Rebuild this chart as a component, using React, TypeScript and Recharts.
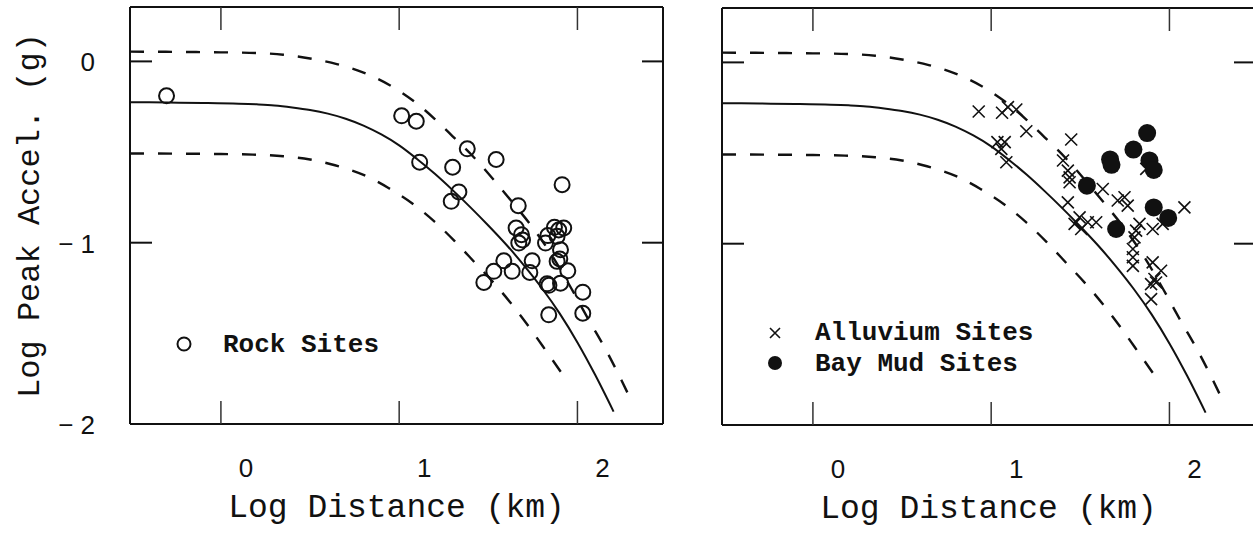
import React from 'react';
import { ScatterChart, Scatter, XAxis, YAxis, Legend, Label } from 'recharts';

type Pt = { x: number; y: number };

const X_DOMAIN: [number, number] = [-0.51, 2.48];
const Y_DOMAIN: [number, number] = [-2, 0.3];
const xTickValues = [0, 1, 2];
const xTickLabels = ['0', '1', '2'];
const yTickValues = [-2, -1, 0];
const yTickLabels = ['\u2212 2', '\u2212 1', '0'];

const xTitle = 'Log Distance (km)';
const yTitle = 'Log Peak Accel. (g)';
const rockLegend = ['Rock Sites'];
const softLegend = ['Alluvium Sites', 'Bay Mud Sites'];

const medianCurve: Pt[] = [
  { x: -0.51, y: -0.225 }, { x: -0.3, y: -0.227 }, { x: -0.1, y: -0.229 }, { x: 0.1, y: -0.233 },
  { x: 0.2, y: -0.237 }, { x: 0.3, y: -0.243 }, { x: 0.4, y: -0.254 }, { x: 0.5, y: -0.268 },
  { x: 0.6, y: -0.288 }, { x: 0.7, y: -0.316 }, { x: 0.8, y: -0.354 }, { x: 0.9, y: -0.403 },
  { x: 1.0, y: -0.463 }, { x: 1.1, y: -0.538 }, { x: 1.2, y: -0.62 }, { x: 1.3, y: -0.71 },
  { x: 1.4, y: -0.805 }, { x: 1.5, y: -0.905 }, { x: 1.6, y: -1.01 }, { x: 1.7, y: -1.125 },
  { x: 1.8, y: -1.25 }, { x: 1.9, y: -1.39 }, { x: 2.0, y: -1.55 }, { x: 2.1, y: -1.73 },
  { x: 2.203, y: -1.932 },
];

const upperCurve: Pt[] = [
  { x: -0.51, y: 0.054 }, { x: -0.2, y: 0.052 }, { x: 0.0, y: 0.05 }, { x: 0.2, y: 0.046 },
  { x: 0.35, y: 0.037 }, { x: 0.5, y: 0.016 }, { x: 0.65, y: -0.015 }, { x: 0.8, y: -0.062 },
  { x: 0.95, y: -0.133 }, { x: 1.1, y: -0.233 }, { x: 1.2, y: -0.318 }, { x: 1.3, y: -0.413 },
  { x: 1.42, y: -0.53 }, { x: 1.53, y: -0.653 }, { x: 1.64, y: -0.783 }, { x: 1.74, y: -0.905 },
  { x: 1.85, y: -1.06 }, { x: 1.95, y: -1.225 }, { x: 2.06, y: -1.42 }, { x: 2.17, y: -1.61 },
  { x: 2.24, y: -1.745 }, { x: 2.3, y: -1.867 },
];

const lowerCurve: Pt[] = [
  { x: -0.51, y: -0.508 }, { x: -0.2, y: -0.509 }, { x: 0.0, y: -0.511 }, { x: 0.18, y: -0.514 },
  { x: 0.35, y: -0.523 }, { x: 0.5, y: -0.541 }, { x: 0.64, y: -0.573 }, { x: 0.8, y: -0.626 },
  { x: 0.94, y: -0.698 }, { x: 1.07, y: -0.781 }, { x: 1.2, y: -0.885 }, { x: 1.31, y: -0.99 },
  { x: 1.42, y: -1.105 }, { x: 1.54, y: -1.232 }, { x: 1.64, y: -1.35 }, { x: 1.74, y: -1.48 },
  { x: 1.83, y: -1.605 }, { x: 1.951, y: -1.775 },
];

const rockSites: Pt[] = [
  { x: -0.305, y: -0.19 }, { x: 1.014, y: -0.3 }, { x: 1.096, y: -0.33 }, { x: 1.115, y: -0.556 },
  { x: 1.382, y: -0.482 }, { x: 1.544, y: -0.541 }, { x: 1.3, y: -0.584 }, { x: 1.914, y: -0.68 },
  { x: 1.335, y: -0.72 }, { x: 1.292, y: -0.772 }, { x: 1.668, y: -0.796 }, { x: 1.656, y: -0.919 },
  { x: 1.686, y: -0.956 }, { x: 1.671, y: -1.002 }, { x: 1.692, y: -0.985 }, { x: 1.871, y: -0.915 },
  { x: 1.923, y: -0.919 }, { x: 1.834, y: -0.961 }, { x: 1.886, y: -0.965 }, { x: 1.821, y: -1.002 },
  { x: 1.905, y: -1.039 }, { x: 1.901, y: -1.09 }, { x: 1.886, y: -1.103 }, { x: 1.946, y: -1.155 },
  { x: 1.746, y: -1.1 }, { x: 1.587, y: -1.1 }, { x: 1.634, y: -1.158 }, { x: 1.531, y: -1.158 },
  { x: 1.733, y: -1.164 }, { x: 1.475, y: -1.219 }, { x: 1.83, y: -1.227 }, { x: 1.905, y: -1.223 },
  { x: 1.84, y: -1.235 }, { x: 2.03, y: -1.273 }, { x: 1.839, y: -1.398 }, { x: 2.03, y: -1.389 },
  { x: 1.895, y: -0.93 },
];

const alluviumSites: Pt[] = [
  { x: 0.93, y: -0.271 }, { x: 1.061, y: -0.278 }, { x: 1.094, y: -0.247 }, { x: 1.141, y: -0.26 },
  { x: 1.197, y: -0.38 }, { x: 1.035, y: -0.44 }, { x: 1.076, y: -0.44 }, { x: 1.057, y: -0.477 },
  { x: 1.085, y: -0.551 }, { x: 1.449, y: -0.425 }, { x: 1.403, y: -0.541 }, { x: 1.43, y: -0.597 },
  { x: 1.44, y: -0.634 }, { x: 1.44, y: -0.661 }, { x: 1.43, y: -0.772 }, { x: 1.496, y: -0.855 },
  { x: 1.468, y: -0.891 }, { x: 1.505, y: -0.919 }, { x: 1.542, y: -0.882 }, { x: 1.589, y: -0.882 },
  { x: 1.626, y: -0.698 }, { x: 1.71, y: -0.762 }, { x: 1.748, y: -0.744 }, { x: 1.766, y: -0.79 },
  { x: 1.832, y: -0.891 }, { x: 1.813, y: -0.928 }, { x: 1.804, y: -0.965 }, { x: 1.795, y: -1.029 },
  { x: 1.795, y: -1.075 }, { x: 1.795, y: -1.122 }, { x: 1.906, y: -0.919 }, { x: 1.906, y: -1.103 },
  { x: 1.953, y: -1.149 }, { x: 1.916, y: -1.195 }, { x: 1.897, y: -1.223 }, { x: 1.925, y: -1.214 },
  { x: 1.897, y: -1.306 }, { x: 2.084, y: -0.8 }, { x: 1.87, y: -0.587 }, { x: 1.962, y: -0.891 },
];

const bayMudSites: Pt[] = [
  { x: 1.875, y: -0.39 }, { x: 1.798, y: -0.481 }, { x: 1.667, y: -0.535 }, { x: 1.675, y: -0.565 },
  { x: 1.888, y: -0.541 }, { x: 1.912, y: -0.593 }, { x: 1.537, y: -0.68 }, { x: 1.912, y: -0.8 },
  { x: 1.993, y: -0.858 }, { x: 1.701, y: -0.919 },
];

const topTickMarks: Pt[] = xTickValues.map((v) => ({ x: v, y: Y_DOMAIN[1] }));

const INK = '#111';
const axisStyle = { stroke: INK, strokeWidth: 2 };
const TICK_FONT = '"Liberation Sans", Arial, sans-serif';
const MONO_FONT = '"Liberation Mono", "DejaVu Sans Mono", monospace';

const labelFor = (values: number[], labels: string[], v: number) => {
  const i = values.indexOf(v);
  return i >= 0 ? labels[i] : String(v);
};

const BottomTick = (props: any) => {
  const { x, y, payload } = props;
  return (
    <g>
      <line x1={x} x2={x} y1={y} y2={y - 23} stroke="#333" strokeWidth={1.5} />
      <text x={x + 25} y={y + 44} textAnchor="middle" dominantBaseline="central" fontFamily={TICK_FONT} fontSize={26} fill={INK}>
        {labelFor(xTickValues, xTickLabels, payload.value)}
      </text>
    </g>
  );
};

const LeftTickLabeled = (props: any) => {
  const { x, y, payload } = props;
  return (
    <g>
      {payload.value !== -2 && <line x1={x} x2={x + 22} y1={y} y2={y} stroke={INK} strokeWidth={2} />}
      <text x={x - 35} y={y + 1} textAnchor="end" dominantBaseline="central" fontFamily={TICK_FONT} fontSize={26} fill={INK}>
        {labelFor(yTickValues, yTickLabels, payload.value)}
      </text>
    </g>
  );
};

const LeftTickPlain = (props: any) => {
  const { x, y, payload } = props;
  if (payload.value === -2) return <g />;
  return <line x1={x} x2={x + 22} y1={y} y2={y} stroke={INK} strokeWidth={2} />;
};

const RightTick = (props: any) => {
  const { x, y, payload } = props;
  if (payload.value === -2) return <g />;
  return <line x1={x - 21} x2={x} y1={y} y2={y} stroke={INK} strokeWidth={2} />;
};

const XTitle = (props: any) => {
  const vb = props.viewBox || { x: 130, y: 424, width: 534, height: 109 };
  return (
    <text x={vb.x + vb.width / 2} y={vb.y + 84} textAnchor="middle" dominantBaseline="central" fontFamily={MONO_FONT} fontSize={33} fill={INK}>
      {xTitle}
    </text>
  );
};

const YTitle = (props: any) => {
  const vb = props.viewBox || { x: 0, y: 7, width: 130, height: 417 };
  const cx = vb.x + 30;
  const cy = vb.y + vb.height / 2;
  return (
    <text x={cx} y={cy} transform={`rotate(-90, ${cx}, ${cy})`} textAnchor="middle" dominantBaseline="central" fontFamily={MONO_FONT} fontSize={32} fill={INK}>
      {yTitle}
    </text>
  );
};

const OpenCircle = (p: any) => <circle cx={p.cx} cy={p.cy} r={7.5} fill="none" stroke={INK} strokeWidth={2} />;
const Cross = (p: any) => (
  <path d={`M${p.cx - 6},${p.cy - 6}L${p.cx + 6},${p.cy + 6}M${p.cx - 6},${p.cy + 6}L${p.cx + 6},${p.cy - 6}`} stroke={INK} strokeWidth={1.6} fill="none" />
);
const FilledDot = (p: any) => <circle cx={p.cx} cy={p.cy} r={9} fill={INK} stroke="none" />;
const TopTickMark = (p: any) => <line x1={p.cx} x2={p.cx} y1={p.cy} y2={p.cy + 23} stroke="#333" strokeWidth={1.5} />;
const NoShape = () => <g />;

const RockLegend = () => (
  <svg width={240} height={40} style={{ display: 'block' }}>
    <circle cx={24} cy={20} r={6.5} fill="none" stroke={INK} strokeWidth={2} />
    <text x={63} y={21} dominantBaseline="central" fontFamily={MONO_FONT} fontWeight="bold" fontSize={26} fill={INK}>{rockLegend[0]}</text>
  </svg>
);

const SoftLegend = () => (
  <svg width={300} height={70} style={{ display: 'block' }}>
    <path d="M20,15L30,25M20,25L30,15" stroke={INK} strokeWidth={1.6} fill="none" />
    <text x={65} y={20} dominantBaseline="central" fontFamily={MONO_FONT} fontWeight="bold" fontSize={26} fill={INK}>{softLegend[0]}</text>
    <circle cx={25} cy={50} r={7} fill={INK} />
    <text x={65} y={51} dominantBaseline="central" fontFamily={MONO_FONT} fontWeight="bold" fontSize={26} fill={INK}>{softLegend[1]}</text>
  </svg>
);

const curveSeries = () => [
  <Scatter key="med" data={medianCurve} fill="none" shape={NoShape} line={{ stroke: INK, strokeWidth: 2 }} lineJointType="monotoneX" isAnimationActive={false} />,
  <Scatter key="up" data={upperCurve} fill="none" shape={NoShape} line={{ stroke: INK, strokeWidth: 2.4, strokeDasharray: '14 14' }} lineJointType="monotoneX" isAnimationActive={false} />,
  <Scatter key="lo" data={lowerCurve} fill="none" shape={NoShape} line={{ stroke: INK, strokeWidth: 2.4, strokeDasharray: '14 14' }} lineJointType="monotoneX" isAnimationActive={false} />,
  <Scatter key="tt" data={topTickMarks} fill="none" shape={TopTickMark} isAnimationActive={false} />,
];

export default function App() {
  return (
    <div style={{ position: 'absolute', left: 0, top: 0, width: 1253, height: 533, overflow: 'hidden', background: '#fff' }}>
      <div style={{ position: 'absolute', left: 0, top: 0 }}>
        <ScatterChart width={680} height={533} margin={{ top: 6, right: 16, bottom: 0, left: 0 }}>
          <XAxis type="number" dataKey="x" domain={X_DOMAIN} ticks={xTickValues} interval={0} height={109} tickSize={0} tickMargin={0} tickLine={false} tick={BottomTick} axisLine={axisStyle} allowDataOverflow>
            <Label content={XTitle} />
          </XAxis>
          <XAxis xAxisId="top" orientation="top" type="number" dataKey="x" domain={X_DOMAIN} ticks={xTickValues} height={1} tickLine={false} tick={false} axisLine={axisStyle} allowDataOverflow />
          <YAxis type="number" dataKey="y" domain={Y_DOMAIN} ticks={yTickValues} interval={0} width={130} tickSize={0} tickMargin={0} tickLine={false} tick={LeftTickLabeled} axisLine={axisStyle} allowDataOverflow>
            <Label content={YTitle} />
          </YAxis>
          <YAxis yAxisId="right" orientation="right" type="number" dataKey="y" domain={Y_DOMAIN} ticks={yTickValues} interval={0} width={1} tickSize={0} tickMargin={0} tickLine={false} tick={RightTick} axisLine={axisStyle} allowDataOverflow />
          {curveSeries()}
          <Scatter data={rockSites} shape={OpenCircle} fill="none" isAnimationActive={false} />
          <Legend layout="vertical" align="center" verticalAlign="middle" wrapperStyle={{ left: 160, top: 324, width: 240, height: 40 }} content={RockLegend} />
        </ScatterChart>
      </div>
      <div style={{ position: 'absolute', left: 680, top: 0 }}>
        <ScatterChart width={576} height={533} margin={{ top: 7, right: 0, bottom: 0, left: 0 }}>
          <XAxis type="number" dataKey="x" domain={X_DOMAIN} ticks={xTickValues} interval={0} height={108} tickSize={0} tickMargin={0} tickLine={false} tick={BottomTick} axisLine={axisStyle} allowDataOverflow>
            <Label content={XTitle} />
          </XAxis>
          <XAxis xAxisId="top" orientation="top" type="number" dataKey="x" domain={X_DOMAIN} ticks={xTickValues} height={1} tickLine={false} tick={false} axisLine={axisStyle} allowDataOverflow />
          <YAxis type="number" dataKey="y" domain={Y_DOMAIN} ticks={yTickValues} interval={0} width={42} tickSize={0} tickMargin={0} tickLine={false} tick={LeftTickPlain} axisLine={axisStyle} allowDataOverflow />
          <YAxis yAxisId="right" orientation="right" type="number" dataKey="y" domain={Y_DOMAIN} ticks={yTickValues} interval={0} width={1} tickSize={0} tickMargin={0} tickLine={false} tick={RightTick} axisLine={axisStyle} allowDataOverflow />
          {curveSeries()}
          <Scatter data={alluviumSites} shape={Cross} fill="none" isAnimationActive={false} />
          <Scatter data={bayMudSites} shape={FilledDot} fill={INK} isAnimationActive={false} />
          <Legend layout="vertical" align="center" verticalAlign="middle" wrapperStyle={{ left: 70, top: 313, width: 300, height: 70 }} content={SoftLegend} />
        </ScatterChart>
      </div>
    </div>
  );
}
